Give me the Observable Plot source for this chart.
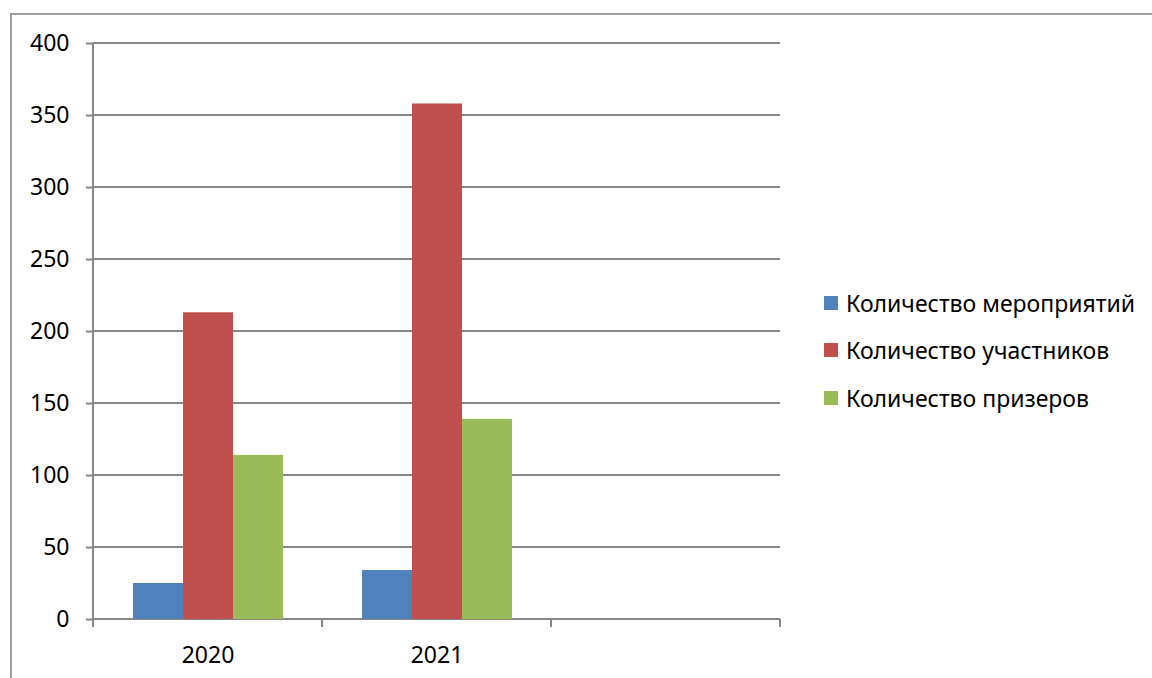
<!DOCTYPE html>
<html>
<head>
<meta charset="utf-8">
<script src="https://cdn.jsdelivr.net/npm/d3@7"></script>
<script src="https://cdn.jsdelivr.net/npm/@observablehq/plot@0.6"></script>
<style>
  html, body { margin: 0; padding: 0; background: #fff; overflow: hidden; width: 1152px; height: 678px; }
  #wrap { position: relative; width: 1152px; height: 678px; font-family: "Noto Sans", sans-serif; color: #000; }
  #border { position: absolute; left: 10px; top: 13px; width: 1200px; height: 720px; border: 2px solid #a0a0a0; box-sizing: border-box; }
  #chart { position: absolute; left: 0; top: 0; }
  #legend { position: absolute; left: 824px; top: 279px; font-size: 23px; }
  .row { display: flex; align-items: center; height: 47.5px; white-space: nowrap; }
  .sw { width: 14px; height: 14px; margin-right: 8px; flex: none; }
</style>
</head>
<body>
<div id="wrap">
  <div id="border"></div>
  <div id="chart"></div>
  <div id="legend"></div>
</div>
<script>
// ---- data ----
const categories = ["2020", "2021", ""];
const seriesNames = ["Количество мероприятий", "Количество участников", "Количество призеров"];
const events = [25, 34, null];
const participants = [213, 358, null];
const winners = [114, 139, null];
const seriesColors = ["#4F81BD", "#C0504D", "#9BBB59"];
const yTicks = [0, 50, 100, 150, 200, 250, 300, 350, 400];

const GRID = "#878787";
const seriesValues = [events, participants, winners];
const rows = [];
categories.forEach((c, i) => {
  seriesNames.forEach((s, j) => rows.push({category: c, series: s, value: seriesValues[j][i]}));
});

// gridlines, category boundary ticks and vertical value axis line, drawn from the scales
function gridAndAxis(index, scales, values, dims) {
  const fx = scales.fx, y = scales.y;
  const y0 = y(0), yTop = y(d3.max(yTicks));
  const dom = fx.domain();
  const edges = dom.map(d => fx(d));
  edges.push(fx(dom[dom.length - 1]) + fx.bandwidth());
  const g = d3.create("svg:g").attr("stroke", GRID).attr("stroke-width", 2).attr("fill", "none");
  yTicks.forEach(t => g.append("line").attr("x1", edges[0]).attr("x2", edges[edges.length - 1]).attr("y1", y(t)).attr("y2", y(t)));
  edges.forEach(x => g.append("line").attr("x1", x).attr("x2", x).attr("y1", y0).attr("y2", y0 + 8));
  g.append("line").attr("x1", edges[0]).attr("x2", edges[0]).attr("y1", yTop).attr("y2", y0 + 8);
  return g.node();
}

const chart = Plot.plot({
  width: 800,
  height: 678,
  marginLeft: 92,
  marginRight: 19,
  marginTop: 43,
  marginBottom: 59,
  style: {fontFamily: "'Noto Sans', sans-serif", fontSize: "23px", color: "#000", background: "transparent"},
  fx: {domain: categories, padding: 0, label: null},
  x: {domain: seriesNames, paddingInner: 0, paddingOuter: 0.755, axis: null},
  y: {domain: [0, 400], label: null},
  color: {domain: seriesNames, range: seriesColors},
  marks: [
    Plot.frame({facet: "super", render: gridAndAxis}),
    Plot.barY(rows, {fx: "category", x: "series", y: "value", fill: "series"}),
    Plot.axisY(yTicks, {tickSize: 7, tickPadding: 17, stroke: GRID, strokeWidth: 2, fill: "#000", fontSize: 23, label: null}),
    Plot.axisFx({anchor: "bottom", tickSize: 0, tickPadding: 27, fontSize: 23, fill: "#000", label: null})
  ]
});
document.getElementById("chart").appendChild(chart);

const legend = d3.select("#legend");
seriesNames.forEach((s, i) => {
  const r = legend.append("div").attr("class", "row");
  r.append("div").attr("class", "sw").style("background", seriesColors[i]);
  r.append("span").text(s);
});
</script>
</body>
</html>
